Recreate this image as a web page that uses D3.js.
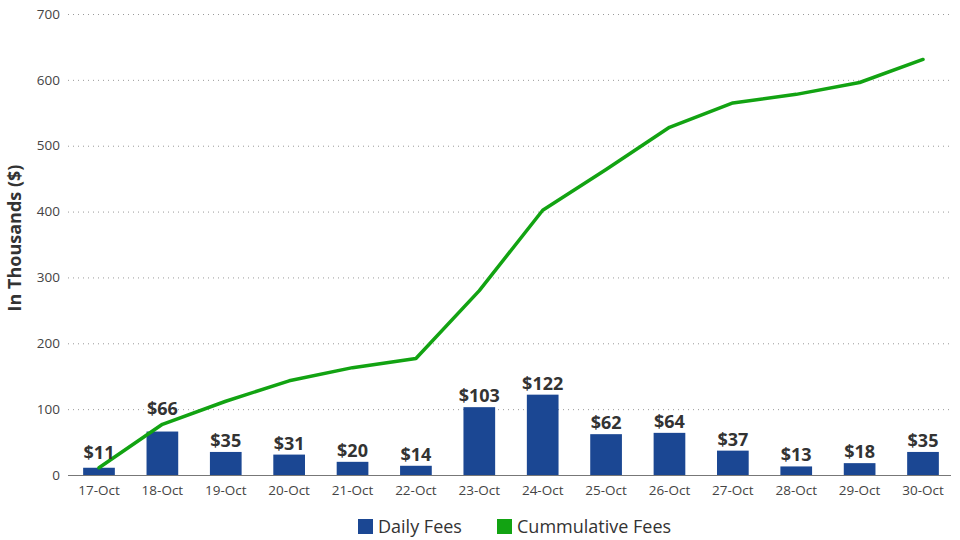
<!DOCTYPE html>
<html>
<head>
<meta charset="utf-8">
<script src="https://cdn.jsdelivr.net/npm/d3@7"></script>
<style>
  body { margin: 0; background: #fff; }
  svg { display: block; font-family: "Open Sans", sans-serif; }
</style>
</head>
<body>
<svg id="chart" width="960" height="540"></svg>
<script>
const categories = ["17-Oct","18-Oct","19-Oct","20-Oct","21-Oct","22-Oct","23-Oct","24-Oct","25-Oct","26-Oct","27-Oct","28-Oct","29-Oct","30-Oct"];
const dailyFees = [11, 66, 35, 31, 20, 14, 103, 122, 62, 64, 37, 13, 18, 35];
const cumulativeFees = [11, 77, 112, 143, 163, 177, 280, 402, 464, 528, 565, 578, 596, 631];
const yTicks = [0, 100, 200, 300, 400, 500, 600, 700];
const seriesNames = ["Daily Fees", "Cummulative Fees"];

const barColor = "#1b4793";
const lineColor = "#12a312";

const svg = d3.select("#chart");
const plotLeft = 67.3, plotRight = 954.7, plotTop = 14, plotBottom = 475;

const x = d3.scaleBand().domain(categories).range([plotLeft, plotRight]).paddingInner(0.5).paddingOuter(0.25);
const y = d3.scaleLinear().domain([0, 700]).range([plotBottom, plotTop]);

// gridlines
svg.append("g").selectAll("line").data(yTicks.filter(d => d > 0)).join("line")
  .attr("x1", 68).attr("x2", 951)
  .attr("y1", d => y(d) + 0.5).attr("y2", d => y(d) + 0.5)
  .attr("stroke", "#9a9a9a").attr("stroke-width", 1)
  .attr("stroke-dasharray", "1,4");

// y axis labels
svg.append("g").selectAll("text").data(yTicks).join("text")
  .attr("x", 60).attr("y", d => y(d))
  .attr("dy", "0.35em")
  .attr("text-anchor", "end")
  .attr("font-size", 13.5).attr("fill", "#444")
  .text(d => d);

// y axis title
svg.append("text")
  .attr("transform", `translate(21,238) rotate(-90)`)
  .attr("text-anchor", "middle")
  .attr("font-size", 18).attr("font-weight", "bold").attr("fill", "#333")
  .text("In Thousands ($)");

// bars
svg.append("g").selectAll("rect").data(dailyFees).join("rect")
  .attr("x", (d, i) => x(categories[i]))
  .attr("width", x.bandwidth())
  .attr("y", d => y(d))
  .attr("height", d => y(0) - y(d))
  .attr("fill", barColor);

// baseline
svg.append("line")
  .attr("x1", 68).attr("x2", 951)
  .attr("y1", plotBottom + 0.5).attr("y2", plotBottom + 0.5)
  .attr("stroke", "#777").attr("stroke-width", 1);

// x labels
svg.append("g").selectAll("text").data(categories).join("text")
  .attr("x", d => x(d) + x.bandwidth() / 2)
  .attr("y", 495)
  .attr("text-anchor", "middle")
  .attr("font-size", 13.5).attr("fill", "#444")
  .text(d => d);

// line
const line = d3.line()
  .x((d, i) => x(categories[i]) + x.bandwidth() / 2)
  .y(d => y(d));
svg.append("path")
  .datum(cumulativeFees)
  .attr("d", line)
  .attr("fill", "none")
  .attr("stroke", lineColor)
  .attr("stroke-width", 3.5)
  .attr("stroke-linejoin", "round")
  .attr("stroke-linecap", "round");

// bar labels (moved above the line where they would collide with it)
function labelY(d, i) {
  const barTop = y(d);
  const lineY = y(cumulativeFees[i]);
  if (lineY > barTop - 25) return Math.min(barTop - 5, lineY - 9);
  return barTop - 5;
}
svg.append("g").selectAll("text").data(dailyFees).join("text")
  .attr("x", (d, i) => x(categories[i]) + x.bandwidth() / 2)
  .attr("y", labelY)
  .attr("text-anchor", "middle")
  .attr("font-size", 18).attr("font-weight", "bold").attr("fill", "#333")
  .text(d => "$" + d);

// legend
const legend = svg.append("g");
const legendItems = [
  { name: seriesNames[0], color: barColor, x: 358 },
  { name: seriesNames[1], color: lineColor, x: 497 }
];
legendItems.forEach(it => {
  legend.append("rect").attr("x", it.x).attr("y", 519).attr("width", 15).attr("height", 15).attr("fill", it.color);
  legend.append("text").attr("x", it.x + 20).attr("y", 526.5).attr("dy", "0.35em")
    .attr("font-size", 18).attr("fill", "#333").text(it.name);
});
</script>
</body>
</html>
